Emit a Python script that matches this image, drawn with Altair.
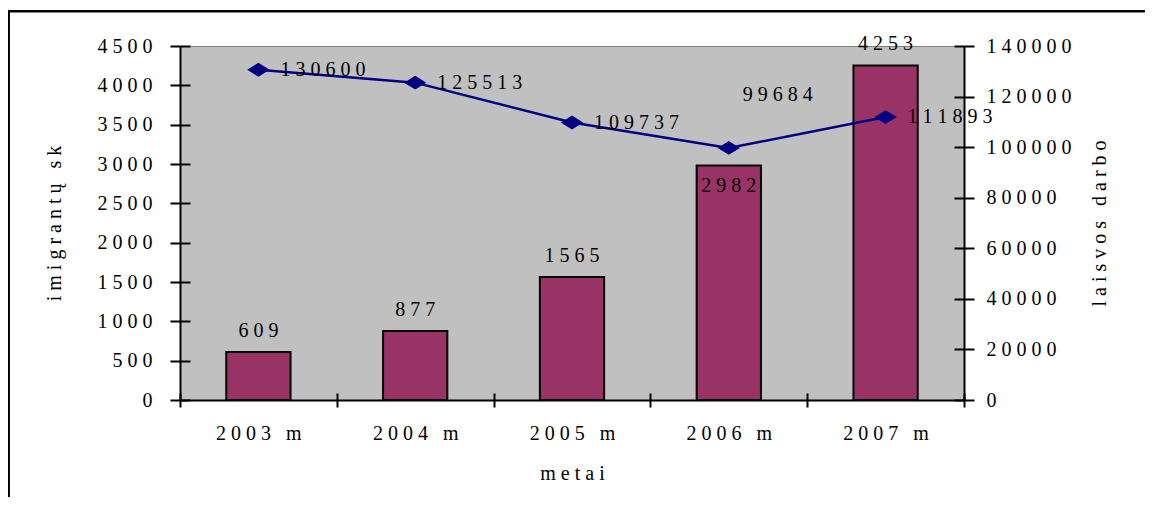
import altair as alt
import pandas as pd

# ---- data ----
years = ["2003 m", "2004 m", "2005 m", "2006 m", "2007 m"]
immigrants = [609, 877, 1565, 2982, 4253]
vacancies = [130600, 125513, 109737, 99684, 111893]
left_ticks = [0, 500, 1000, 1500, 2000, 2500, 3000, 3500, 4000, 4500]
right_ticks = [0, 20000, 40000, 60000, 80000, 100000, 120000, 140000]
x_title = "metai"
left_title = "imigrantų sk"
right_title = "laisvos darbo"

FONT = "Liberation Serif"
FS = 20
W, H = 784, 354
SEP = "\u00a0"  # non-collapsing space used to reproduce the wide letter spacing


def spaced(s):
    return SEP.join(list(s.replace(" ", SEP)))


SPACED_LABEL = "join(split(replace(datum.label, ' ', '\u00a0'), ''), '\u00a0')"
SPACED_NUM = "join(split(toString(datum.{f}), ''), '\u00a0')"

df = pd.DataFrame({"year": years, "imm": immigrants, "vac": vacancies})
odd_year = years[3]

x_scale = alt.Scale(domain=years, paddingInner=0, paddingOuter=0)
yl_scale = alt.Scale(domain=[0, 4500], nice=False, zero=True)
yr_scale = alt.Scale(domain=[0, 140000], nice=False, zero=True)

base = alt.Chart(df)

# bars + main left axis + main bottom axis
bars = base.mark_bar(
    color="#993366", stroke="black", strokeWidth=2,
    width=alt.RelativeBandSize(0.41)
).encode(
    x=alt.X("year:N", scale=x_scale, sort=years, axis=alt.Axis(
        orient="bottom", title=spaced(x_title), tickBand="extent",
        labelExpr=SPACED_LABEL, labelAngle=0, tickSize=7,
        labelPadding=16, titlePadding=20)),
    y=alt.Y("imm:Q", scale=yl_scale, axis=alt.Axis(
        orient="left", values=left_ticks, format="d", labelExpr=SPACED_LABEL,
        title=spaced(left_title), tickSize=10, labelPadding=18, titlePadding=33)),
)

# bar labels (also carry the inner halves of the left / bottom ticks)
bar_labels = base.transform_filter(
    f"datum.year != '{odd_year}'"
).transform_calculate(
    lab=SPACED_NUM.format(f="imm")
).mark_text(font=FONT, fontSize=FS, baseline="alphabetic", dy=-15, color="black").encode(
    x=alt.X("year:N", scale=x_scale, sort=years, axis=alt.Axis(
        orient="bottom", tickBand="extent", offset=-7, tickSize=7,
        labels=False, domain=False, title=None)),
    y=alt.Y("imm:Q", scale=yl_scale, axis=alt.Axis(
        orient="left", values=left_ticks, offset=-10, tickSize=10,
        labels=False, domain=False, title=None)),
    text="lab:N",
)

bar_label_odd = base.transform_filter(
    f"datum.year == '{odd_year}'"
).transform_calculate(
    lab=SPACED_NUM.format(f="imm")
).mark_text(font=FONT, fontSize=FS, baseline="alphabetic", dy=27, color="black").encode(
    x=alt.X("year:N", scale=x_scale, sort=years, axis=None),
    y=alt.Y("imm:Q", scale=yl_scale, axis=None),
    text="lab:N",
)

# line + main right axis
line = base.mark_line(color="#000080", strokeWidth=2.5).encode(
    x=alt.X("year:N", scale=x_scale, sort=years, axis=None),
    y=alt.Y("vac:Q", scale=yr_scale, axis=alt.Axis(
        orient="right", values=right_ticks, format="d", labelExpr=SPACED_LABEL,
        title=spaced(right_title), titleAngle=-90, titleBaseline="top",
        tickSize=10, labelPadding=12, titlePadding=18)),
)

DIAMOND = "M-1,0L0,-0.62L1,0L0,0.62Z"
points = base.mark_point(
    shape=DIAMOND, filled=True, size=500, color="#000080", opacity=1
).encode(
    x=alt.X("year:N", scale=x_scale, sort=years, axis=None),
    y=alt.Y("vac:Q", scale=yr_scale, axis=alt.Axis(
        orient="right", values=right_ticks, offset=-10, tickSize=10,
        labels=False, domain=False, title=None)),
)

line_labels = base.transform_filter(
    f"datum.year != '{odd_year}'"
).transform_calculate(
    lab=SPACED_NUM.format(f="vac")
).mark_text(font=FONT, fontSize=FS, align="left", baseline="middle", dx=22, color="black").encode(
    x=alt.X("year:N", scale=x_scale, sort=years, axis=None),
    y=alt.Y("vac:Q", scale=yr_scale, axis=None),
    text="lab:N",
)

line_label_odd = base.transform_filter(
    f"datum.year == '{odd_year}'"
).transform_calculate(
    lab=SPACED_NUM.format(f="vac")
).mark_text(font=FONT, fontSize=FS, align="left", baseline="middle", dx=14, dy=-53, color="black").encode(
    x=alt.X("year:N", scale=x_scale, sort=years, axis=None),
    y=alt.Y("vac:Q", scale=yr_scale, axis=None),
    text="lab:N",
)

# outer frame (top and left edges of the chart area)
frame_src = alt.Chart(pd.DataFrame({"k": [0]}))
frame_top = frame_src.mark_rule(color="black", strokeWidth=2.5).encode(
    x=alt.value(-172), x2=alt.value(W + 190), y=alt.value(-34.7)
)
frame_left = frame_src.mark_rule(color="black", strokeWidth=2.5).encode(
    x=alt.value(-171.3), y=alt.value(-36), y2=alt.value(H + 140)
)

chart = alt.layer(
    bars, bar_labels, bar_label_odd, line, points, line_labels, line_label_odd,
    frame_top, frame_left
).resolve_scale(
    y="independent"
).resolve_axis(
    x="independent", y="independent"
).properties(
    width=W, height=H,
    autosize=alt.AutoSizeParams(type="none"),
    padding={"left": 172, "top": 38, "right": 181, "bottom": 97},
    background="white",
).configure_view(
    fill="#C0C0C0", stroke="#808080", strokeWidth=1
).configure_axis(
    labelFont=FONT, labelFontSize=FS, labelColor="black",
    titleFont=FONT, titleFontSize=FS, titleFontWeight="normal", titleColor="black",
    domainColor="black", tickColor="black", domainWidth=2, tickWidth=2, grid=False,
)

chart.save("out.html", embed_options={"renderer": "svg", "actions": False})
